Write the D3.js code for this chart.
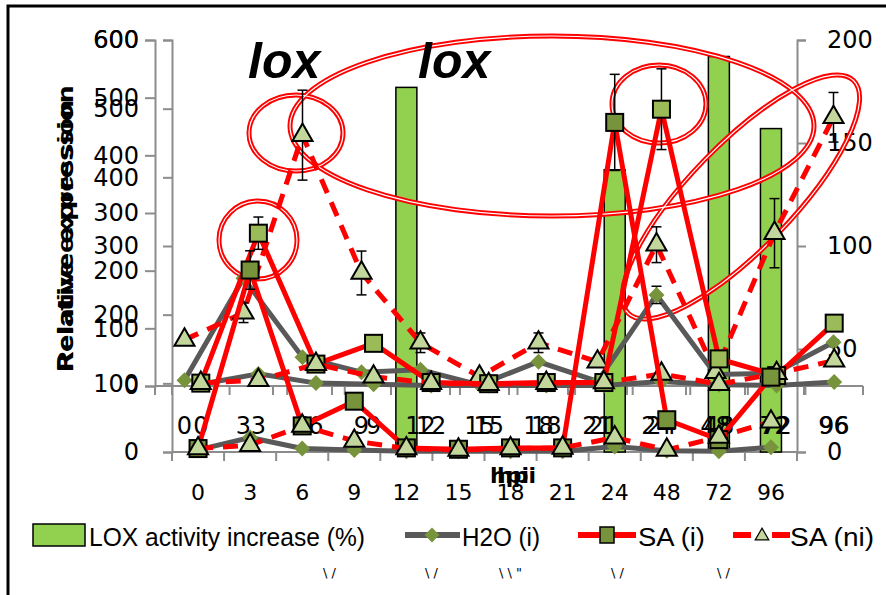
<!DOCTYPE html>
<html>
<head>
<meta charset="utf-8">
<script src="https://cdn.jsdelivr.net/npm/d3@7"></script>
<style>
html, body { margin: 0; padding: 0; background: #fff; }
svg { display: block; }
text { font-family: "DejaVu Sans", sans-serif; fill: #000; }
</style>
</head>
<body>
<div id="chart"></div>
<script>
const hours = ['0', '3', '6', '9', '12', '15', '18', '21', '24', '48', '72', '96'];

// upper panel, outer axis (lox)
const loxH2O     = [10, 187, 50, 24, 28, 2, 42, 8, 158, 20, 22, 76];
const loxH2OErr  = [0, 0, 0, 0, 0, 0, 0, 0, 15, 0, 0, 0];
const loxSAni    = [80, 127, 435, 196, 75, 16, 75, 42, 245, 24, 265, 466];
const loxSAniErr = [0, 17, 78, 38, 17, 0, 17, 0, 31, 0, 60, 43];

// relative expression, drawn on the inner upper axis and on the lower axis
const h2o    = [3, 21, 5, 3, 1, 1, 1, 1, 8, 2, 1, 7];
const saI    = [5, 265, 38, 74, 6, 4, 6, 6, 480, 47, 18, 109];
const saIErr = [0, 28, 0, 0, 0, 3, 0, 0, 70, 0, 0, 0];
const saNi   = [5, 10, 38, 16, 5, 3, 5, 6, 21, 3, 22, 44];

// LOX activity increase (%), right axis
const loxActivity = [null, null, null, null, 177, null, null, null, 137, null, 192, 157];

const leftTicks = [0, 100, 200, 300, 400, 500, 600];
const rightTicks = [0, 50, 100, 150, 200];

const W = 886, H = 595;
const GRAY = '#8c8c8c';

const svg = d3.select('#chart').append('svg')
    .attr('width', W)
    .attr('height', H);

svg.append('rect').attr('width', W).attr('height', H).style('fill', '#fff');

// scales
const yTop = d3.scaleLinear().domain([0, 600]).range([386, 40]);
const yLow = d3.scaleLinear().domain([0, 600]).range([452, 40]);
const yRight = d3.scaleLinear().domain([0, 200]).range([452, 40]);
const xA = d3.scaleBand().domain(hours).range([155, 863]);
const xB = d3.scaleBand().domain(hours).range([172, 863]);
const xC = d3.scaleBand().domain(hours).range([172, 797]);
const mid = (x, h) => x(h) + x.bandwidth() / 2;

// left axes
function leftAxis(y, x0, tick, pad) {
    const g = svg.append('g')
        .attr('transform', 'translate(' + x0 + ',0)')
        .call(d3.axisLeft(y).tickValues(leftTicks).tickSize(tick).tickPadding(pad));
    g.select('.domain').attr('stroke', GRAY).attr('stroke-width', 2);
    g.selectAll('.tick line').attr('stroke', GRAY).attr('stroke-width', 2);
    g.selectAll('.tick text').style('font-size', '24px').style('font-family', 'DejaVu Sans');
}
leftAxis(yTop, 155, 10, 6);
leftAxis(yLow, 172, 9, 24);

// right axis
const ra = svg.append('g')
    .attr('transform', 'translate(797,0)')
    .call(d3.axisRight(yRight).tickValues(rightTicks).tickSize(9).tickPadding(21));
ra.select('.domain').attr('stroke', GRAY).attr('stroke-width', 2);
ra.selectAll('.tick line').attr('stroke', GRAY).attr('stroke-width', 2);
ra.selectAll('.tick text').style('font-size', '24px').style('font-family', 'DejaVu Sans');

// category axes, ticks on the band edges (lines first, labels later)
function catLine(x, y0) {
    const g = svg.append('g');
    const r = x.range();
    g.append('line')
        .attr('x1', r[0]).attr('x2', r[1]).attr('y1', y0).attr('y2', y0)
        .attr('stroke', GRAY).attr('stroke-width', 2);
    const edges = hours.map(h => x(h)).concat([r[1]]);
    g.selectAll(null).data(edges).enter().append('line')
        .attr('x1', d => d).attr('x2', d => d)
        .attr('y1', y0).attr('y2', y0 + 9)
        .attr('stroke', GRAY).attr('stroke-width', 2);
}
function catLabels(x, labelY, size) {
    svg.append('g').selectAll(null).data(hours).enter().append('text')
        .attr('x', d => mid(x, d))
        .attr('y', labelY)
        .attr('text-anchor', 'middle')
        .style('font-size', size + 'px')
        .text(d => d);
}
catLine(xA, 386);
catLine(xB, 386);
catLine(xC, 452);

// bars
const bw = 21;
svg.append('g').selectAll('rect')
    .data(hours.map((h, i) => ({ h: h, v: loxActivity[i] })).filter(d => d.v != null))
    .enter().append('rect')
        .attr('x', d => mid(xC, d.h) - bw / 2)
        .attr('y', d => yRight(d.v))
        .attr('width', bw)
        .attr('height', d => yRight(0) - yRight(d.v))
        .style('fill', '#92d050')
        .style('stroke', '#000')
        .style('stroke-width', 1.5);

catLabels(xA, 434, 24);
catLabels(xB, 434, 24);
catLabels(xC, 500, 22);

// red double-line ellipses
const ellipses = [
    { cx: 258, cy: 240, rx: 39, ry: 39, a: 0 },
    { cx: 296, cy: 133, rx: 47, ry: 38, a: 0 },
    { cx: 552, cy: 126, rx: 262, ry: 90, a: 0 },
    { cx: 659, cy: 104, rx: 47, ry: 39, a: 0 },
    { cx: 741, cy: 197, rx: 162, ry: 52, a: -46 }
];
const eg = svg.append('g');
eg.selectAll(null).data(ellipses).enter().append('ellipse')
    .attr('transform', d => 'translate(' + d.cx + ',' + d.cy + ') rotate(' + d.a + ')')
    .attr('rx', d => d.rx).attr('ry', d => d.ry)
    .style('fill', 'none').style('stroke', '#ff0000').style('stroke-width', 5);
eg.selectAll(null).data(ellipses).enter().append('ellipse')
    .attr('transform', d => 'translate(' + d.cx + ',' + d.cy + ') rotate(' + d.a + ')')
    .attr('rx', d => d.rx).attr('ry', d => d.ry)
    .style('fill', 'none').style('stroke', '#fff').style('stroke-width', 1.2);

// markers
function marker(sel, kind, fill) {
    if (kind === 'diamond') {
        sel.append('path')
            .attr('d', d3.symbol(d3.symbolSquare, 128)())
            .attr('transform', 'rotate(45)')
            .style('fill', '#77933c');
    } else if (kind === 'square') {
        sel.append('rect')
            .attr('x', -8.5).attr('y', -8.5).attr('width', 17).attr('height', 17)
            .style('fill', fill).style('stroke', '#000').style('stroke-width', 2);
    } else {
        sel.append('path')
            .attr('d', d3.symbol(d3.symbolTriangle, 175)())
            .style('fill', '#c3d69b').style('stroke', '#000').style('stroke-width', 2);
    }
}

function series(x, y, vals, errs, st) {
    const g = svg.append('g');
    const pts = hours.map((h, i) => ({ x: mid(x, h), v: vals[i], e: errs ? errs[i] : 0 }));
    g.append('path').datum(pts)
        .attr('d', d3.line().x(d => d.x).y(d => y(d.v)))
        .style('fill', 'none')
        .style('stroke', st.stroke)
        .style('stroke-width', 5)
        .style('stroke-dasharray', st.dash || null);
    const eb = g.selectAll(null).data(pts.filter(d => d.e > 0)).enter().append('g')
        .style('stroke', '#000').style('stroke-width', 1.5);
    eb.append('line')
        .attr('x1', d => d.x).attr('x2', d => d.x)
        .attr('y1', d => y(d.v + d.e)).attr('y2', d => y(Math.max(0, d.v - d.e)));
    eb.append('line')
        .attr('x1', d => d.x - 5).attr('x2', d => d.x + 5)
        .attr('y1', d => y(d.v + d.e)).attr('y2', d => y(d.v + d.e));
    eb.append('line')
        .attr('x1', d => d.x - 5).attr('x2', d => d.x + 5)
        .attr('y1', d => y(Math.max(0, d.v - d.e))).attr('y2', d => y(Math.max(0, d.v - d.e)));
    g.selectAll(null).data(pts).enter().append('g')
        .attr('transform', d => 'translate(' + d.x + ',' + y(d.v) + ')')
        .call(s => marker(s, st.marker, st.fill));
}

const stH2O = { stroke: '#595959', marker: 'diamond' };
const stSAi = { stroke: '#ff0000', marker: 'square' };
const stSAni = { stroke: '#ff0000', marker: 'triangle', dash: '15,10' };

// outer upper panel
series(xA, yTop, loxH2O, loxH2OErr, stH2O);
series(xA, yTop, loxSAni, loxSAniErr, stSAni);
// inner upper panel
series(xB, yTop, h2o, null, stH2O);
series(xB, yTop, saI, saIErr, Object.assign({ fill: '#9bbb59' }, stSAi));
series(xB, yTop, saNi, null, stSAni);
// lower panel
series(xC, yLow, h2o, null, stH2O);
series(xC, yLow, saI, saIErr, Object.assign({ fill: '#77933c' }, stSAi));
series(xC, yLow, saNi, null, stSAni);

// lox labels
svg.selectAll(null).data([{ x: 248, t: 'lox' }, { x: 418, t: 'lox' }]).enter().append('text')
    .attr('x', d => d.x).attr('y', 78)
    .style('font-family', 'Liberation Sans')
    .style('font-weight', 'bold').style('font-style', 'italic')
    .style('font-size', '50px')
    .text(d => d.t);

// axis titles (printed twice, slightly out of register)
[{ f: 'DejaVu Sans', len: 287 }, { f: 'Liberation Sans', len: 272 }].forEach(d => {
    svg.append('text')
        .attr('transform', 'translate(73,372) rotate(-90)')
        .attr('textLength', d.len).attr('lengthAdjust', 'spacingAndGlyphs')
        .style('font-family', d.f).style('font-weight', 'bold').style('font-size', '22px')
        .text('Relative expression');
});
[490, 497].forEach(x => {
    svg.append('text')
        .attr('x', x).attr('y', 483)
        .style('font-weight', 'bold').style('font-size', '22px')
        .text('hpi');
});

// legend
const lg = svg.append('g');
const ly = 535;
lg.append('rect').attr('x', 33).attr('y', 524).attr('width', 52).attr('height', 22)
    .style('fill', '#92d050').style('stroke', '#000').style('stroke-width', 1.5);
lg.append('line').attr('x1', 405).attr('x2', 460).attr('y1', ly).attr('y2', ly)
    .style('stroke', '#595959').style('stroke-width', 6);
lg.append('path').attr('d', d3.symbol(d3.symbolSquare, 110)())
    .attr('transform', 'translate(432,' + ly + ') rotate(45)').style('fill', '#77933c');
lg.append('line').attr('x1', 578).attr('x2', 636).attr('y1', ly).attr('y2', ly)
    .style('stroke', '#ff0000').style('stroke-width', 6);
lg.append('rect').attr('x', 600).attr('y', ly - 8).attr('width', 14).attr('height', 16)
    .style('fill', '#77933c').style('stroke', '#000').style('stroke-width', 1.5);
lg.append('line').attr('x1', 733).attr('x2', 790).attr('y1', ly).attr('y2', ly)
    .style('stroke', '#ff0000').style('stroke-width', 6).style('stroke-dasharray', '18,21');
lg.append('path').attr('d', d3.symbol(d3.symbolTriangle, 80)())
    .attr('transform', 'translate(762,' + (ly + 1) + ')')
    .style('fill', '#c3d69b').style('stroke', '#000').style('stroke-width', 1.2);

const legendText = [
    { x: 89, len: 276, t: 'LOX activity increase (%)' },
    { x: 462, len: 78, t: 'H2O (i)' },
    { x: 638, len: 67, t: 'SA (i)' },
    { x: 790, len: 84, t: 'SA (ni)' }
];
lg.selectAll(null).data(legendText).enter().append('text')
    .attr('x', d => d.x).attr('y', 546)
    .attr('textLength', d => d.len).attr('lengthAdjust', 'spacingAndGlyphs')
    .style('font-family', 'Liberation Sans').style('font-size', '26px')
    .text(d => d.t);

// clipped fragments under the legend
svg.selectAll(null).data([323, 425, 611, 717]).enter().append('text')
    .attr('x', d => d).attr('y', 577)
    .style('font-size', '13px')
    .text('\\ /');
svg.append('text').attr('x', 499).attr('y', 577).style('font-size', '13px').text('\\ \\ "');

// outer frame
svg.append('rect')
    .attr('x', 8).attr('y', 6).attr('width', 900).attr('height', 620)
    .style('fill', 'none').style('stroke', '#000').style('stroke-width', 3);
</script>
</body>
</html>
